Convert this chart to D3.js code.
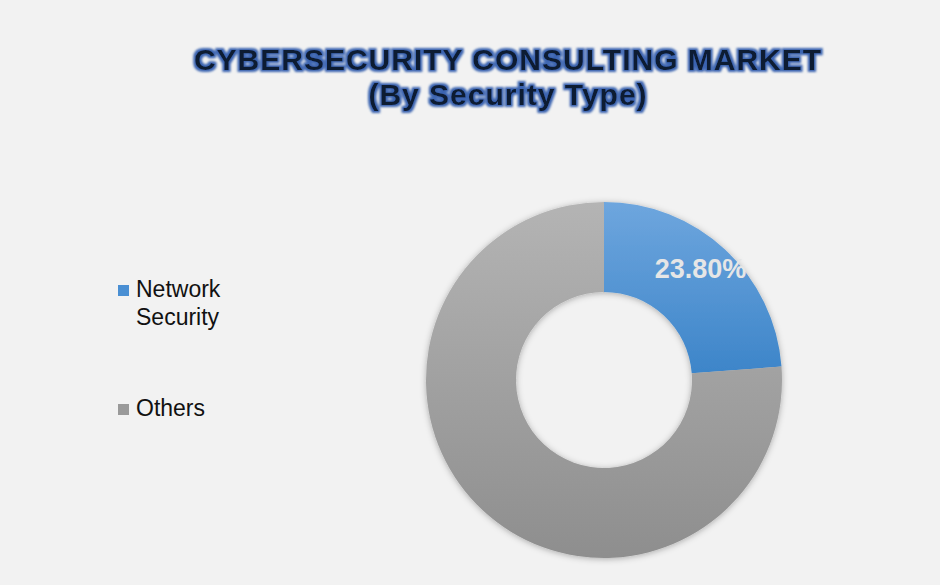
<!DOCTYPE html>
<html>
<head>
<meta charset="UTF-8">
<script src="https://d3js.org/d3.v7.min.js"></script>
<style>
  body { margin: 0; background: #f2f2f2; }
  svg { display: block; font-family: "Liberation Sans", Arial, sans-serif; }
</style>
</head>
<body>
<svg id="chart" width="940" height="585"></svg>
<script>
const categories = ["Network Security", "Others"];
const values = [23.8, 76.2];
const legendLines = [["Network", "Security"], ["Others"]];
const sliceLabels = ["23.80%", ""];

const svg = d3.select("#chart");
const defs = svg.append("defs");

// title glow
const glow = defs.append("filter").attr("id", "glow").attr("x", "-10%").attr("y", "-30%").attr("width", "120%").attr("height", "160%");
glow.append("feMorphology").attr("in", "SourceAlpha").attr("operator", "dilate").attr("radius", 1.5).attr("result", "d");
glow.append("feFlood").attr("flood-color", "#3a64b0");
glow.append("feComposite").attr("in2", "d").attr("operator", "in").attr("result", "c");
glow.append("feGaussianBlur").attr("in", "c").attr("stdDeviation", 0.8).attr("result", "b");
const gm = glow.append("feMerge");
gm.append("feMergeNode").attr("in", "b");
gm.append("feMergeNode").attr("in", "SourceGraphic");

// donut shadow
const sh = defs.append("filter").attr("id", "shadow").attr("x", "-20%").attr("y", "-20%").attr("width", "140%").attr("height", "140%");
sh.append("feDropShadow").attr("dx", 0).attr("dy", 1).attr("stdDeviation", 3).attr("flood-color", "#000").attr("flood-opacity", 0.3);

const gradBlue = defs.append("linearGradient").attr("id", "gBlue").attr("x1", 0).attr("y1", 0).attr("x2", 0).attr("y2", 1);
gradBlue.append("stop").attr("offset", "0%").attr("stop-color", "#6ea6de");
gradBlue.append("stop").attr("offset", "100%").attr("stop-color", "#3d85c9");
const gradGrey = defs.append("linearGradient").attr("id", "gGrey").attr("gradientUnits", "userSpaceOnUse")
  .attr("x1", 0).attr("y1", -178).attr("x2", 0).attr("y2", 178);
gradGrey.append("stop").attr("offset", "0%").attr("stop-color", "#b4b4b4");
gradGrey.append("stop").attr("offset", "100%").attr("stop-color", "#8e8e8e");
const fills = ["url(#gBlue)", "url(#gGrey)"];
const legendColors = ["#4a8fd3", "#9a9a9a"];

// title
const title = svg.append("g").attr("filter", "url(#glow)")
  .attr("font-weight", "bold").attr("fill", "#0e1a33").attr("text-anchor", "middle");
title.append("text").attr("x", 508).attr("y", 70).attr("font-size", 30).attr("letter-spacing", 1).text("CYBERSECURITY CONSULTING MARKET");
title.append("text").attr("x", 508).attr("y", 105).attr("font-size", 30).attr("letter-spacing", 1).text("(By Security Type)");

// donut
const cx = 604, cy = 380, outerR = 178, innerR = 88;
const pie = d3.pie().sort(null).value(d => d)(values);
const arc = d3.arc().innerRadius(innerR).outerRadius(outerR);
const g = svg.append("g").attr("transform", `translate(${cx},${cy})`);
g.append("g").attr("filter", "url(#shadow)")
  .selectAll("path").data(pie).join("path")
  .attr("d", arc).attr("fill", (d, i) => fills[i]);

g.selectAll("text.lbl").data(pie).join("text").attr("class", "lbl")
  .attr("transform", d => {
    const c = d3.arc().innerRadius(innerR).outerRadius(outerR).centroid(d);
    return `translate(${c[0] + 6},${c[1] - 14})`;
  })
  .attr("text-anchor", "middle").attr("dy", "0.35em")
  .attr("font-size", 27).attr("font-weight", "bold").attr("fill", "#e6e6e6")
  .text((d, i) => sliceLabels[i]);

// legend
const legendY = [297, 416];
const leg = svg.append("g");
categories.forEach((c, i) => {
  leg.append("rect").attr("x", 118).attr("y", legendY[i] - 12).attr("width", 11).attr("height", 11).attr("fill", legendColors[i]);
  const t = leg.append("text").attr("x", 136).attr("y", legendY[i]).attr("font-size", 23).attr("fill", "#111");
  legendLines[i].forEach((l, j) => t.append("tspan").attr("x", 136).attr("dy", j ? 28 : 0).text(l));
});
</script>
</body>
</html>
